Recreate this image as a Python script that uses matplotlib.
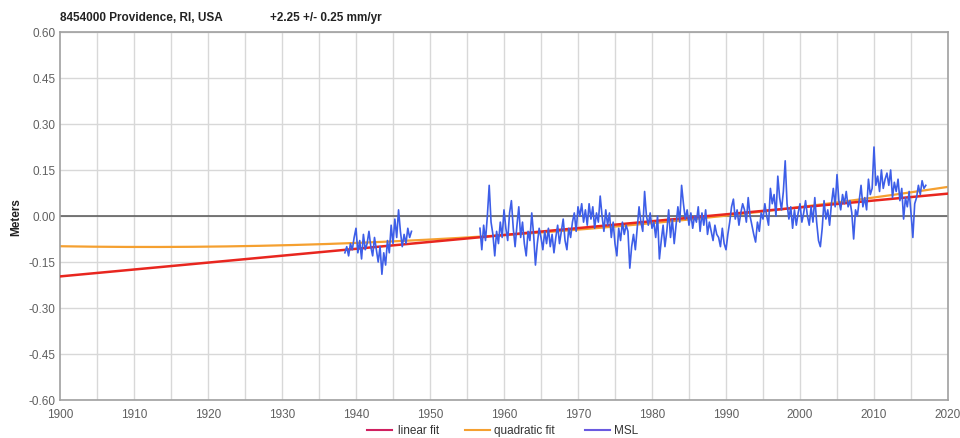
import numpy as np
import matplotlib
matplotlib.use("Agg")
import matplotlib.pyplot as plt
from matplotlib.lines import Line2D

plt.rcParams['font.family'] = ['Liberation Sans', 'DejaVu Sans']

title_station = "8454000 Providence, RI, USA"
title_rate = "+2.25 +/- 0.25 mm/yr"
y_label = "Meters"
legend_labels = ["linear fit", "quadratic fit", "MSL"]

x_ticks = [1900, 1910, 1920, 1930, 1940, 1950, 1960, 1970, 1980, 1990, 2000, 2010, 2020]
y_ticks = [-0.60, -0.45, -0.30, -0.15, 0.00, 0.15, 0.30, 0.45, 0.60]

# MSL segment 1: quarterly, starting 1938.5
seg1_start = 1938.5
seg1_values = [-0.12, -0.10, -0.13, -0.09, -0.11, -0.07, -0.04, -0.12, -0.08, -0.14,
               -0.06, -0.11, -0.09, -0.05, -0.10, -0.13, -0.07, -0.11, -0.15, -0.10,
               -0.19, -0.12, -0.16, -0.08, -0.12, -0.03, -0.09, -0.01, -0.07, 0.02,
               -0.05, -0.10, -0.06, -0.09, -0.04, -0.07, -0.05]

# MSL segment 2: quarterly, starting 1956.75
seg2_start = 1956.75
seg2_values = [
    -0.04,
    -0.11, -0.03, -0.08, 0.00,    # 1957
    0.10, -0.02, -0.06, -0.13,    # 1958
    -0.05, -0.09, -0.02, -0.07,   # 1959
    0.02, -0.04, -0.08, 0.01,     # 1960
    0.05, -0.04, -0.10, -0.03,    # 1961
    0.03, -0.07, -0.02, -0.09,    # 1962
    -0.13, -0.05, -0.08, 0.01,    # 1963
    -0.06, -0.16, -0.09, -0.04,   # 1964
    -0.07, -0.11, -0.05, -0.09,   # 1965
    -0.04, -0.10, -0.06, -0.12,   # 1966
    -0.07, -0.03, -0.09, -0.05,   # 1967
    -0.01, -0.08, -0.11, -0.04,   # 1968
    -0.07, -0.02, 0.01, -0.05,    # 1969
    0.03, 0.00, 0.04, -0.02,      # 1970
    0.02, -0.03, 0.04, -0.01,     # 1971
    0.03, -0.04, 0.01, -0.02,     # 1972
    0.065, 0.00, -0.05, 0.02,     # 1973
    -0.03, 0.01, -0.07, -0.02,    # 1974
    -0.09, -0.13, -0.04, -0.08,   # 1975
    -0.02, -0.06, -0.03, -0.05,   # 1976
    -0.17, -0.10, -0.06, -0.11,   # 1977
    -0.04, 0.03, -0.02, -0.05,    # 1978
    0.08, 0.00, -0.03, 0.01,      # 1979
    -0.04, -0.02, -0.07, 0.00,    # 1980
    -0.14, -0.08, -0.03, -0.10,   # 1981
    -0.05, 0.02, -0.07, -0.01,    # 1982
    -0.09, -0.03, 0.03, -0.02,    # 1983
    0.10, 0.04, -0.01, 0.02,      # 1984
    -0.03, 0.01, -0.04, 0.00,     # 1985
    -0.02, 0.03, -0.05, 0.01,     # 1986
    -0.03, 0.02, -0.06, -0.02,    # 1987
    -0.05, -0.08, -0.03, -0.06,   # 1988
    -0.07, -0.10, -0.04, -0.09,   # 1989
    -0.11, -0.06, -0.02, 0.03,    # 1990
    0.055, -0.01, 0.02, -0.03,    # 1991
    0.01, 0.04, 0.02, -0.02,      # 1992
    0.06, 0.00, -0.03, -0.06,     # 1993
    -0.085, -0.02, -0.05, 0.01,   # 1994
    -0.01, 0.04, 0.00, -0.03,     # 1995
    0.09, 0.04, 0.07, 0.00,       # 1996
    0.13, 0.06, 0.02, 0.08,       # 1997
    0.18, 0.04, -0.01, 0.03,      # 1998
    -0.04, 0.02, -0.03, 0.01,     # 1999
    0.04, -0.02, 0.01, 0.05,      # 2000
    0.00, -0.03, 0.03, -0.02,     # 2001
    0.06, -0.02, -0.08, -0.10,    # 2002
    -0.04, 0.05, -0.01, 0.02,     # 2003
    -0.03, 0.04, 0.09, 0.03,      # 2004
    0.135, 0.05, 0.02, 0.07,      # 2005
    0.04, 0.08, 0.03, 0.05,       # 2006
    0.01, -0.075, 0.02, 0.00,     # 2007
    0.05, 0.10, 0.03, 0.06,       # 2008
    0.02, 0.12, 0.07, 0.09,       # 2009
    0.225, 0.10, 0.13, 0.08,      # 2010
    0.15, 0.09, 0.12, 0.14,       # 2011
    0.10, 0.15, 0.06, 0.11,       # 2012
    0.08, 0.12, 0.05, 0.09,       # 2013
    -0.01, 0.06, 0.03, 0.08,      # 2014
    0.01, -0.07, 0.04, 0.06,      # 2015
    0.10, 0.07, 0.115, 0.09,      # 2016
    0.10,                         # 2017
]
msl_step = 0.25

# Fits (endpoints / coefficients), t = year - 1900
linear_years = [1900, 2020]
linear_values = [-0.197, 0.073]
quad_coeffs = [-0.0986, -0.000403, 1.68e-5]   # c0 + c1*t + c2*t^2

# ---- drawing ----
W, H = 960, 439
fig = plt.figure(figsize=(W / 100, H / 100), dpi=100)
L, R, T, B = 60, 948, 33, 401
ax = fig.add_axes([L / W, 1 - B / H, (R - L) / W, (B - T) / H])

ax.set_xlim(1900, 2020)
ax.set_ylim(-0.60, 0.60)

grid_c = "#d8d8d8"
for yv in y_ticks:
    ax.axhline(yv, color=grid_c, lw=1, zorder=0)
for xv in range(1905, 2020, 5):
    ax.axvline(xv, color=grid_c, lw=1, zorder=0)
ax.axhline(0, color="#555555", lw=1.1, zorder=1)

# fits
ax.plot(linear_years, linear_values, color="#e8261f", lw=1.8, zorder=3)
t = np.linspace(0, 120, 241)
qv = quad_coeffs[0] + quad_coeffs[1] * t + quad_coeffs[2] * t ** 2
ax.plot(1900 + t, qv, color="#f5a030", lw=1.6, zorder=2)

# MSL
s1x = seg1_start + msl_step * np.arange(len(seg1_values))
s2x = seg2_start + msl_step * np.arange(len(seg2_values))
msl_c = "#3d5ee8"
ax.plot(s1x, seg1_values, color=msl_c, lw=1.2, zorder=4)
ax.plot(s2x, seg2_values, color=msl_c, lw=1.2, zorder=4)

ax.set_xticks(x_ticks)
ax.set_yticks(y_ticks)
ax.set_yticklabels([f"{v:.2f}" for v in y_ticks])
ax.tick_params(length=0, labelsize=8.5, labelcolor="#606060", pad=6)
ax.tick_params(axis='y', pad=3)
for s in ax.spines.values():
    s.set_color("#a0a0a0")
    s.set_linewidth(1.2)

fig.text(16 / W, 1 - 217 / H, y_label, fontsize=8.5, fontweight="bold",
         color="#222222", va="center", ha="center", rotation=90)

fig.text(60 / W, 1 - 18 / H, title_station, fontsize=8.5, fontweight="bold",
         color="#222222", va="center", ha="left")
fig.text(270 / W, 1 - 18 / H, title_rate, fontsize=8.5, fontweight="bold",
         color="#222222", va="center", ha="left")

# legend (bottom)
leg_y = 1 - 431 / H
items = [(367, 398, "#d02060"), (465, 494, "#f5a030"), (585, 614, "#6a5ae0")]
for (x0, xt, c), lab in zip(items, legend_labels):
    fig.add_artist(Line2D([x0 / W, (x0 + 25) / W], [leg_y, leg_y], color=c, lw=1.5))
    fig.text(xt / W, leg_y, lab, fontsize=8.5, color="#333333", va="center", ha="left")

fig.savefig("out.png", dpi=100)
